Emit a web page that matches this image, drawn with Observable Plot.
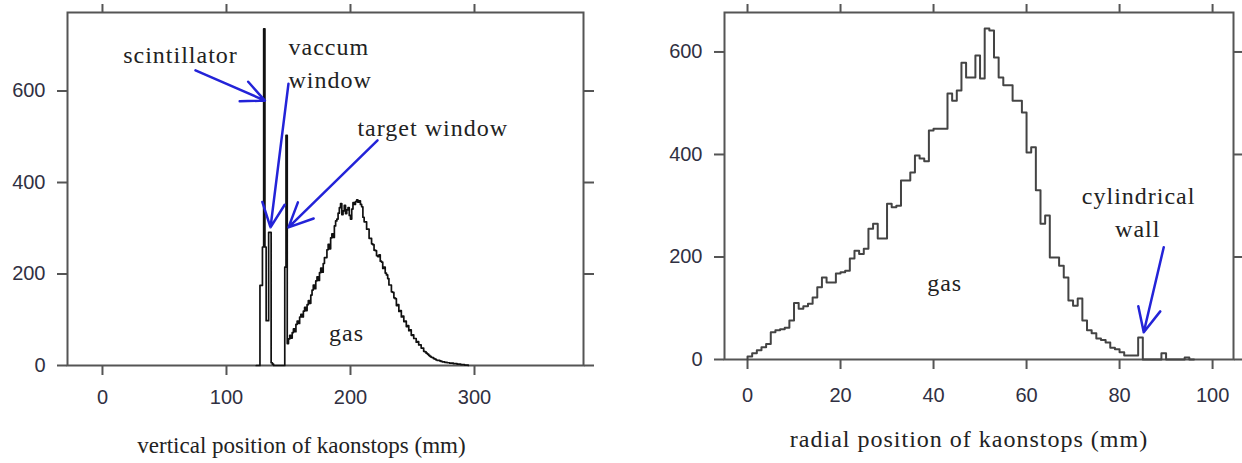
<!DOCTYPE html>
<html><head><meta charset="utf-8">
<script src="https://cdn.jsdelivr.net/npm/d3@7"></script>
<script src="https://cdn.jsdelivr.net/npm/@observablehq/plot@0.6"></script>
<style>
html,body{margin:0;padding:0;background:#fff;}
#wrap{display:flex;width:1242px;height:463px;overflow:hidden;}
#wrap svg{overflow:visible;}
</style></head><body><div id="wrap"></div>
<script>
// ---- Left panel: vertical position of kaonstops (1 mm bins starting at 124 mm)
const vertStart = 124;
const vertBinWidth = 1;
const vertCounts = [
  0,0,0,175,175,259,736,259,98,98,291,291,6,3,0,
  0,0,0,0,0,0,0,0,
  215,503,48,
  58,66,60,72,80,74,90,97,92,106,
  112,106,119,127,120,133,142,136,154,165,
  176,168,185,194,186,203,213,204,223,236,
  236,253,265,255,279,288,280,305,316,320,
  333,345,354,330,338,350,332,340,345,328,
  320,342,356,352,358,362,357,360,352,347,
  324,314,314,298,298,278,278,266,264,252,
  251,240,238,242,228,226,212,215,202,198,
  190,176,176,161,160,148,146,131,133,118,
  120,106,108,96,97,85,87,76,78,66,
  67,59,59,51,52,45,45,38,38,31,
  30,27,25,22,20,18,17,15,14,12,
  11,11,10,9,8,8,7,7,6,6,
  5,5,5,4,4,4,3,3,3,2,
  2,2,1,1,1
];
const vertTicksX = [0, 100, 200, 300];
const vertTicksY = [0, 200, 400, 600];
const vertTitle = "vertical position of kaonstops (mm)";

// ---- Right panel: radial position of kaonstops (1 mm bins starting at 0 mm)
const radialStart = 0;
const radialBinWidth = 1;
const radialCounts = [
  6,12,18,24,30,53,57,59,62,76,
  110,99,104,109,121,141,160,150,150,168,
  170,173,197,212,206,216,255,265,236,236,
  304,297,300,349,349,365,398,392,387,447,
  450,450,450,519,505,525,579,550,550,593,
  548,646,642,589,550,535,535,505,505,482,
  404,414,330,265,281,199,199,183,160,115,
  105,119,76,57,51,41,38,33,23,20,
  14,8,8,8,43,0,0,0,0,12,
  0,0,0,0,4,0
];
const radialTicksX = [0, 20, 40, 60, 80, 100];
const radialTicksY = [0, 200, 400, 600];
const radialTitle = "radial position of kaonstops (mm)";

// Annotations
const leftNotes = [
  {text: "scintillator", x: 62.9, y: 678, anchor: "middle"},
  {text: "vaccum", x: 150, y: 695, anchor: "start"},
  {text: "window", x: 150, y: 623, anchor: "start"},
  {text: "target window", x: 205.6, y: 518, anchor: "start"},
  {text: "gas", x: 196.8, y: 70, anchor: "middle"}
];
const leftArrows = [
  {x1: 75, y1: 645, x2: 131, y2: 579},
  {x1: 150, y1: 616, x2: 135.5, y2: 302},
  {x1: 221.8, y1: 492, x2: 150, y2: 302}
];
const rightNotes = [
  {text: "gas", x: 42.4, y: 148},
  {text: "cylindrical", x: 84.1, y: 318},
  {text: "wall", x: 83.9, y: 254}
];
const rightArrows = [
  {x1: 89.5, y1: 219, x2: 85.2, y2: 53}
];

// Build histogram outline table from bins
function steps(start, width, counts) {
  const pts = [{x: start, y: 0}];
  counts.forEach((c, i) => {
    pts.push({x: start + i * width, y: c});
    pts.push({x: start + (i + 1) * width, y: c});
  });
  pts.push({x: start + counts.length * width, y: 0});
  return pts;
}

const axisStroke = "#555";
const labelFill = "#303042";
const serif = "'Liberation Serif', 'Times New Roman', serif";
const sans = "'Liberation Sans', Arial, sans-serif";
const blue = "#2323d8";

function axes(tx, ty, bottomPad) {
  return [
    Plot.axisX(tx, {anchor: "bottom", tickSize: 10, tickPadding: bottomPad, label: null, stroke: axisStroke, strokeWidth: 2, fill: labelFill, fontSize: 20}),
    Plot.axisX(tx, {anchor: "top", tickSize: 9, tickFormat: () => "", label: null, stroke: axisStroke, strokeWidth: 2}),
    Plot.axisY(ty, {anchor: "left", tickSize: 10, tickPadding: 12, label: null, stroke: axisStroke, strokeWidth: 2, fill: labelFill, fontSize: 20}),
    Plot.axisY(ty, {anchor: "right", tickSize: 10, tickFormat: () => "", label: null, stroke: axisStroke, strokeWidth: 2}),
    Plot.frame({stroke: axisStroke, strokeWidth: 2})
  ];
}

const left = Plot.plot({
  width: 620, height: 463,
  marginLeft: 67, marginRight: 37, marginTop: 12, marginBottom: 98,
  x: {domain: [-28.2, 387.9]},
  y: {domain: [0, 771.6]},
  style: {fontFamily: sans, fontSize: "20px", background: "#fff"},
  marks: [
    ...axes(vertTicksX, vertTicksY, 14),
    Plot.line(steps(vertStart, vertBinWidth, vertCounts), {x: "x", y: "y", stroke: "#111", strokeWidth: 1.7}),
    Plot.arrow(leftArrows, {x1: "x1", y1: "y1", x2: "x2", y2: "y2", stroke: blue, strokeWidth: 2.5, headLength: 16, headAngle: 50}),
    Plot.text(leftNotes, {x: "x", y: "y", text: "text", textAnchor: "start", fontFamily: serif, fontSize: 24, fill: "#222", filter: d => d.anchor === "start"}),
    Plot.text(leftNotes, {x: "x", y: "y", text: "text", textAnchor: "middle", fontFamily: serif, fontSize: 24, fill: "#222", filter: d => d.anchor === "middle"}),
    Plot.text([vertTitle], {frameAnchor: "bottom", dy: 87, dx: -24, fontFamily: serif, fontSize: 23, fill: "#222"})
  ]
});

const right = Plot.plot({
  width: 622, height: 463,
  marginLeft: 104, marginRight: 9, marginTop: 12, marginBottom: 104,
  x: {domain: [-4.95, 104.5]},
  y: {domain: [0, 677]},
  style: {fontFamily: sans, fontSize: "20px", background: "#fff"},
  marks: [
    ...axes(radialTicksX, radialTicksY, 18),
    Plot.line(steps(radialStart, radialBinWidth, radialCounts), {x: "x", y: "y", stroke: "#444", strokeWidth: 2}),
    Plot.arrow(rightArrows, {x1: "x1", y1: "y1", x2: "x2", y2: "y2", stroke: blue, strokeWidth: 2.5, headLength: 16, headAngle: 50}),
    Plot.text(rightNotes, {x: "x", y: "y", text: "text", textAnchor: "middle", fontFamily: serif, fontSize: 24, fill: "#222"}),
    Plot.text([radialTitle], {frameAnchor: "bottom", dy: 87, dx: -10, fontFamily: serif, fontSize: 24, fill: "#222"})
  ]
});

const wrap = document.getElementById("wrap");
wrap.appendChild(left);
wrap.appendChild(right);
// slight letter spacing on serif annotation text, as in the original
d3.select(wrap).selectAll("g[aria-label=text] text").attr("letter-spacing", "1px");
d3.select(left).selectAll("g[aria-label=text]:last-of-type text").attr("letter-spacing", null);
</script></body></html>
